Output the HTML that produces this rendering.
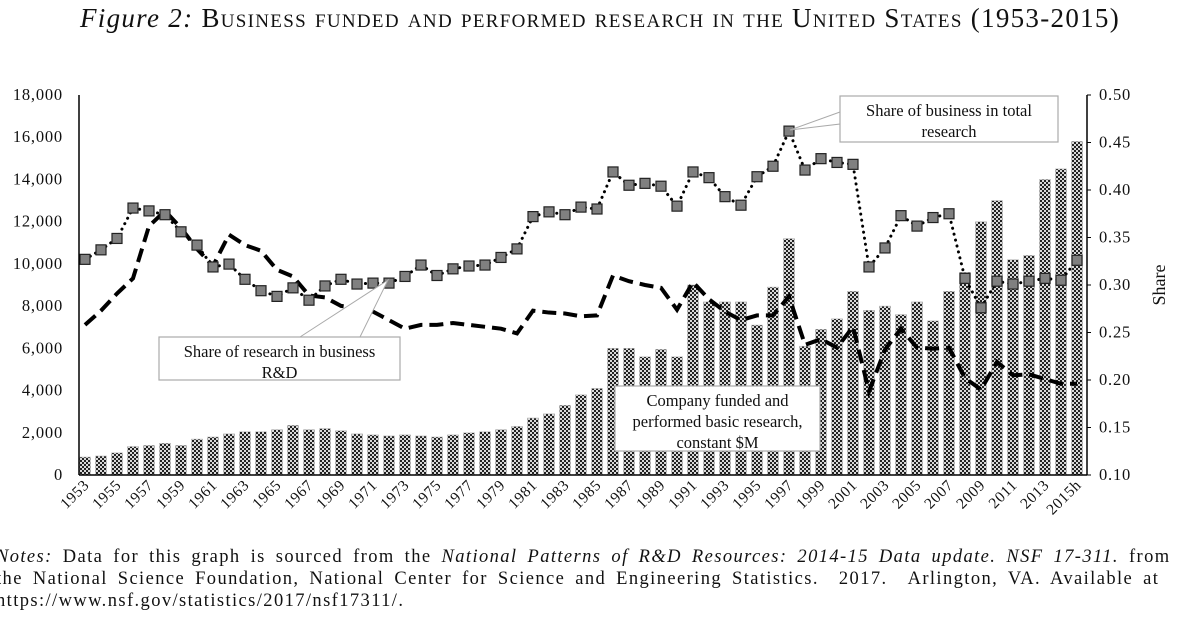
<!DOCTYPE html>
<html><head><meta charset="utf-8">
<style>
html,body{margin:0;padding:0;background:#fff;width:1200px;height:630px;overflow:hidden;font-family:"Liberation Serif",serif;}
#title{position:absolute;left:0;top:3px;width:1200px;text-align:center;font-size:27px;font-variant:small-caps;letter-spacing:1.3px;color:#111;white-space:nowrap}
#notes{position:absolute;left:-4px;top:546px;font-size:18.5px;line-height:22px;color:#111;white-space:nowrap;letter-spacing:1.4px;word-spacing:4px}
</style></head><body>
<div id="title"><i style="font-variant:normal">Figure 2:</i> Business funded and performed research in the United States (1953-2015)</div>
<svg id="chart" width="1200" height="630" style="position:absolute;left:0;top:0">
<defs>
<pattern id="chk" width="4" height="4" patternUnits="userSpaceOnUse">
<rect width="4" height="4" fill="#d8d8d8"/><rect width="2" height="2" fill="#222"/><rect x="2" y="2" width="2" height="2" fill="#222"/>
</pattern>
</defs>
<g id="bars"></g><g id="lines"></g><g id="axes"></g>
</svg>
<div id="notes"><i>Notes:</i> Data for this graph is sourced from the <i>National Patterns of R&amp;D Resources: 2014-15 Data update. NSF 17-311.</i> from<br>the National Science Foundation, National Center for Science and Engineering Statistics. &nbsp;2017. &nbsp;Arlington, VA. Available at<br>https://www.nsf.gov/statistics/2017/nsf17311/.</div>
<script>
const years=[];for(let y=1953;y<=2015;y++)years.push(y);
const basicResearch=[850,900,1050,1350,1400,1500,1400,1700,1800,1950,2050,2050,2150,2350,2150,2200,2100,1950,1900,1850,1900,1850,1800,1900,2000,2050,2150,2300,2700,2900,3300,3800,4100,6000,6000,5600,5950,5600,9000,8200,8200,8200,7100,8900,11200,6100,6900,7400,8700,7800,8000,7600,8200,7300,8700,9600,12000,13000,10200,10400,14000,14500,15800];
const shareBusinessTotal=[0.327,0.337,0.349,0.381,0.378,0.374,0.356,0.342,0.319,0.322,0.306,0.294,0.288,0.297,0.284,0.299,0.306,0.301,0.302,0.302,0.309,0.321,0.310,0.317,0.320,0.321,0.329,0.338,0.372,0.377,0.374,0.382,0.380,0.419,0.405,0.407,0.404,0.383,0.419,0.413,0.393,0.384,0.414,0.425,0.462,0.421,0.433,0.429,0.427,0.319,0.339,0.373,0.362,0.371,0.375,0.307,0.276,0.304,0.301,0.304,0.307,0.305,0.326];
const shareResearchBiz=[0.258,0.273,0.291,0.307,0.362,0.378,0.360,0.338,0.320,0.353,0.342,0.336,0.316,0.309,0.289,0.287,0.278,0.276,0.272,0.263,0.254,0.258,0.258,0.260,0.258,0.256,0.254,0.249,0.273,0.271,0.270,0.267,0.268,0.310,0.304,0.300,0.297,0.274,0.303,0.285,0.272,0.263,0.268,0.268,0.288,0.237,0.243,0.234,0.256,0.188,0.232,0.254,0.234,0.233,0.234,0.202,0.190,0.219,0.205,0.206,0.201,0.196,0.196];
const leftTicks=[0,2000,4000,6000,8000,10000,12000,14000,16000,18000];
const rightTicks=[0.10,0.15,0.20,0.25,0.30,0.35,0.40,0.45,0.50];

const NS='http://www.w3.org/2000/svg';
const X0=85,DX=16.0,YB=475,YT=95,AXL=79,AXR=1087;
const xs=i=>X0+i*DX;
const yl=v=>YB-(v/18000)*(YB-YT);
const yr=v=>YB-((v-0.1)/0.4)*(YB-YT);
function mk(tag,attrs,parent){const e=document.createElementNS(NS,tag);for(const k in attrs)e.setAttribute(k,attrs[k]);parent.appendChild(e);return e;}
const gB=document.getElementById('bars'),gL=document.getElementById('lines'),gA=document.getElementById('axes');

basicResearch.forEach((v,i)=>{
 const r=mk('rect',{x:xs(i)-5.5,y:yl(v),width:11,height:YB-yl(v),fill:'url(#chk)',stroke:'#bbb','stroke-width':0.6},gB);
 
 
});
const dashPts=shareResearchBiz.map((v,i)=>xs(i)+','+yr(v)).join(' ');
const dl=mk('polyline',{points:dashPts,fill:'none',stroke:'#000','stroke-width':4,'stroke-dasharray':'14,7'},gL);


const dotPts=shareBusinessTotal.map((v,i)=>xs(i)+','+yr(v)).join(' ');
const ol=mk('polyline',{points:dotPts,fill:'none',stroke:'#000','stroke-width':3,'stroke-dasharray':'0.1,6','stroke-linecap':'round'},gL);


shareBusinessTotal.forEach((v,i)=>{
 const m=mk('rect',{x:xs(i)-5,y:yr(v)-5,width:10,height:10,fill:'#808080',stroke:'#222','stroke-width':1.2},gL);
 
 
});
mk('line',{x1:AXL,y1:YT,x2:AXL,y2:YB,stroke:'#000','stroke-width':1.5},gA);
mk('line',{x1:AXL,y1:YB,x2:AXR,y2:YB,stroke:'#000','stroke-width':1.5},gA);
mk('line',{x1:AXR,y1:YT,x2:AXR,y2:YB,stroke:'#000','stroke-width':1.5},gA);
leftTicks.forEach(v=>{
 const t=mk('text',{x:AXL-16,y:yl(v)+5,'text-anchor':'end','font-size':16.5,'letter-spacing':0.8,fill:'#111'},gA);
 t.textContent=v.toLocaleString('en-US');
 
 
});
rightTicks.forEach(v=>{
 mk('line',{x1:AXR,y1:yr(v),x2:AXR+4,y2:yr(v),stroke:'#000'},gA);
 const t=mk('text',{x:AXR+12,y:yr(v)+5,'font-size':16.5,'letter-spacing':0.8,fill:'#111'},gA);
 t.textContent=v.toFixed(2);
 
 
});
years.forEach((y,i)=>{
 if(i%2!==0 && y!==2015)return;
 const lab=y===2015?'2015h':String(y);
 const x=xs(i)+5,yy=486;
 const t=mk('text',{x:x,y:yy,'text-anchor':'end','font-size':15.5,'letter-spacing':0.6,fill:'#111',transform:`rotate(-45 ${x} ${yy})`},gA);
 t.textContent=lab;
 
 
});
const yt=mk('text',{x:0,y:0,'text-anchor':'middle','font-size':17,fill:'#111',transform:'translate(-3 285) rotate(-90)'},gA);
yt.textContent='Research in constant $M';


const rt=mk('text',{x:0,y:0,'text-anchor':'middle','font-size':18,fill:'#111',transform:'translate(1165 285) rotate(-90)'},gA);
rt.textContent='Share';



function callout(name,x,y,w,h,lines,tail){
 const g=mk('g',{},gA);
 
 
 mk('polygon',{points:tail,fill:'#fff',stroke:'#aaa','stroke-width':1},g);
 mk('rect',{x:x,y:y,width:w,height:h,fill:'#fff',stroke:'#aaa','stroke-width':1.2},g);
 lines.forEach((l,k)=>{const t=mk('text',{x:x+w/2,y:y+20+k*21,'text-anchor':'middle','font-size':16.5,fill:'#111'},g);t.textContent=l;});
}
callout('annotation-share-business-total',840,96,218,46,['Share of business in total','research'],'840,112 790,130 840,124');
callout('annotation-share-research-business',159,337,241,43,['Share of research in business','R&D'],'300,337 388,280 360,337');
callout('annotation-basic-research',615,386,205,65,['Company funded and','performed basic research,','constant $M'],'615,386 615,386 615,386');
</script>
</body></html>
